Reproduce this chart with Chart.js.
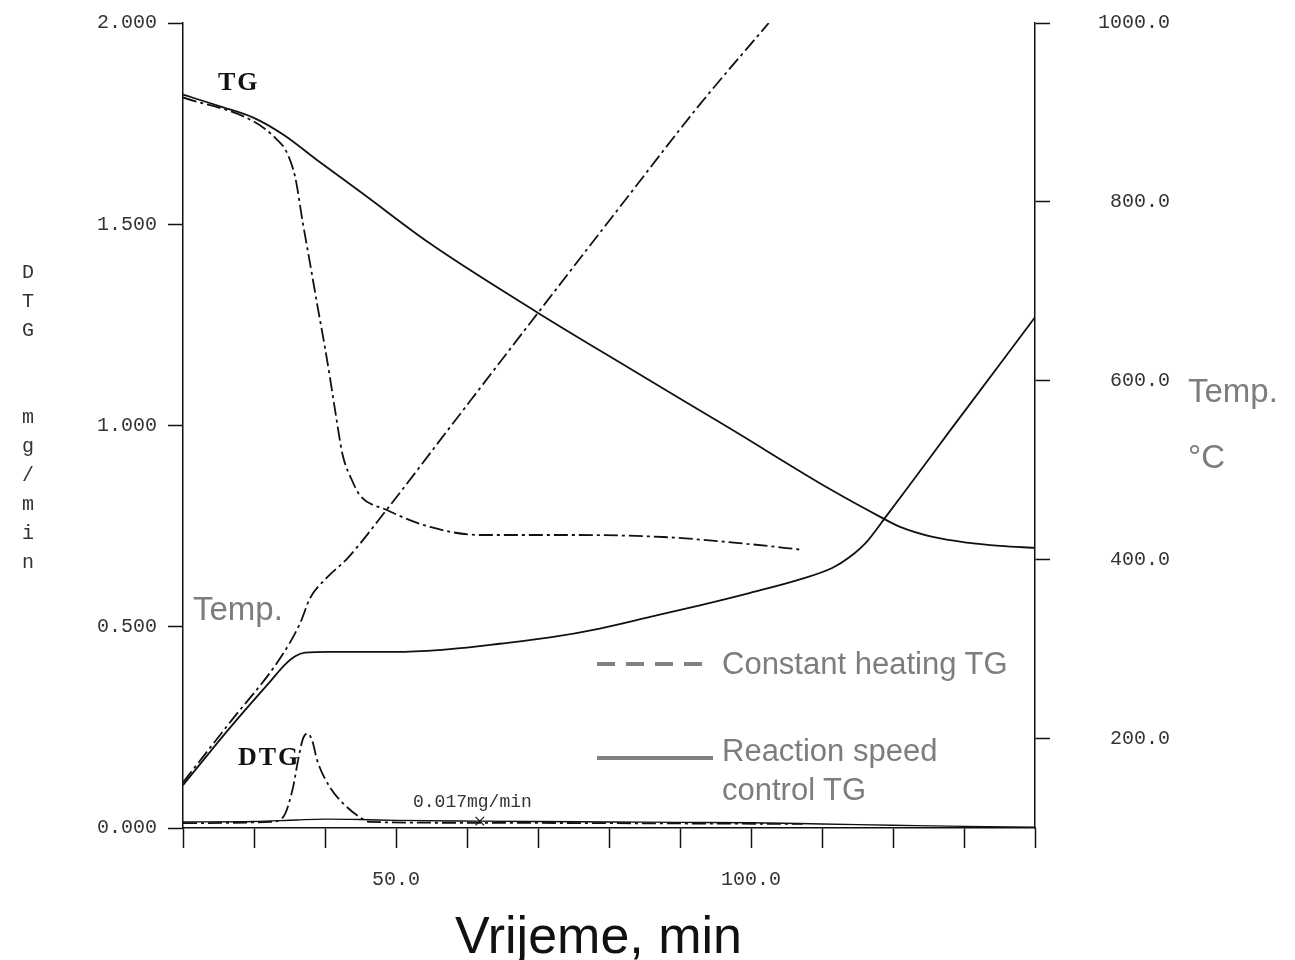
<!DOCTYPE html>
<html>
<head>
<meta charset="utf-8">
<title>TG / DTG</title>
<script src="https://cdn.jsdelivr.net/npm/chart.js@4/dist/chart.umd.min.js"></script>
<style>
  body { margin: 0; background: #fff; }
  #wrap { position: relative; width: 1295px; height: 960px; overflow: hidden; }
  #c { position: absolute; left: 0; top: 0; }
  .t { position: absolute; white-space: nowrap; line-height: 1; }
  .gray { font-family: "Liberation Sans", Arial, sans-serif; color: #7d7d7d; }
  .mono { font-family: "Liberation Mono", "DejaVu Sans Mono", monospace; color: #333; }
  .serif { font-family: "Liberation Serif", "Times New Roman", serif; font-weight: bold; color: #111; letter-spacing: 2px; }
  .key { position: absolute; height: 4px; }
</style>
</head>
<body>
<div id="wrap">
  <canvas id="c" width="1295" height="960"></canvas>

  <div class="t serif" style="left:218px; top:69px; font-size:26px;">TG</div>
  <div class="t serif" style="left:238px; top:744px; font-size:26px;">DTG</div>
  <div class="t mono" style="left:413px; top:793px; font-size:18px;">0.017mg/min</div>

  <div class="t gray" style="left:193px; top:592px; font-size:33px;">Temp.</div>
  <div class="t gray" style="left:1188px; top:374px; font-size:33px;">Temp.</div>
  <div class="t gray" style="left:1188px; top:440px; font-size:33px;">°C</div>

  <div class="key" style="left:597px; top:662px; width:108px; background:repeating-linear-gradient(90deg,#808080 0 18px,transparent 18px 29px);"></div>
  <div class="t gray" style="left:722px; top:648px; font-size:31px;">Constant heating TG</div>
  <div class="key" style="left:597px; top:756px; width:116px; background:#808080;"></div>
  <div class="t gray" style="left:722px; top:735px; font-size:31px;">Reaction speed</div>
  <div class="t gray" style="left:722px; top:774px; font-size:31px;">control TG</div>

  <div class="t" style="left:455px; top:909px; font-size:52px; font-family:'Liberation Sans', Arial, sans-serif; color:#111;">Vrijeme, min</div>

  <div id="ylab"></div>
</div>

<script>
// TG, reaction speed control (solid)
const timeTgRsc = [20, 25.2, 29.9, 34.1, 39.3, 45.4, 54.8, 69.9, 83.0, 97.0, 111.1, 118.2, 121.0, 125.6, 130.4, 135.1, 140];
const massTgRsc = [1.822, 1.793, 1.765, 1.723, 1.654, 1.575, 1.452, 1.281, 1.141, 0.993, 0.842, 0.773, 0.748, 0.723, 0.709, 0.701, 0.696];

// TG, constant heating (dash-dot)
const timeTgConst = [20, 29.9, 33.2, 34.6, 35.8, 36.9, 37.9, 39.0, 40.0, 40.7, 41.4, 42.5, 43.8, 44.9, 48.7, 54.8, 61.8, 73.5, 87.6, 99.4, 107.3];
const massTgConst = [1.815, 1.756, 1.711, 1.679, 1.617, 1.501, 1.402, 1.291, 1.193, 1.119, 1.040, 0.926, 0.864, 0.827, 0.790, 0.748, 0.728, 0.728, 0.723, 0.706, 0.691];

// temperature, constant heating
const timeTempConst = [20, 26.6, 33.7, 36.5, 37.9, 40.4, 43.1, 48.7, 57.6, 70.0, 81.5, 92.8, 102.5];
const tempConst = [151, 218, 290, 329, 357, 381, 401, 456, 548, 676, 794, 909, 1000];

// temperature, reaction speed control
const timeTempRsc = [20, 26.6, 32.3, 34.4, 35.8, 37.2, 40.7, 50.6, 57.6, 64.6, 71.7, 78.7, 85.8, 92.8, 99.9, 106.9, 111.5, 113.9, 116.3, 118.9, 122.4, 128.0, 135.1, 140];
const tempRsc = [148, 212, 264, 283, 292, 296, 297, 297, 300, 306, 313, 323, 336, 349, 363, 378, 391, 403, 420, 447, 484, 544, 619, 671];

// DTG, constant heating
const timeDtgConst = [20, 32.3, 34.1, 35.5, 36.2, 36.9, 37.5, 38.2, 38.9, 40.7, 42.5, 44.9, 46.3, 60, 80, 107.3];
const dtgConst = [0.012, 0.015, 0.027, 0.101, 0.168, 0.222, 0.235, 0.217, 0.168, 0.101, 0.062, 0.027, 0.015, 0.013, 0.012, 0.010];

// DTG, reaction speed control (~0.017 mg/min)
const timeDtgRsc = [20, 30, 36, 40, 45, 50, 61.8, 70, 80, 90, 100, 110, 120, 130, 140];
const dtgRsc = [0.015, 0.016, 0.020, 0.022, 0.021, 0.019, 0.017, 0.016, 0.015, 0.014, 0.013, 0.010, 0.007, 0.004, 0.002];

const markTime = [61.8];
const markDtg = [0.017];

const xLabelled = [50, 100];
const dtgTicks = [0, 0.5, 1, 1.5, 2];
const tempTicks = [200, 400, 600, 800, 1000];
const yLabelChars = ['D', 'T', 'G', 'm', 'g', '/', 'm', 'i', 'n'];
const yLabelTops = [263, 292, 321, 408, 437, 466, 495, 524, 553];

// stacked axis caption on the left
const ylab = document.getElementById('ylab');
yLabelChars.forEach((ch, i) => {
  const d = document.createElement('div');
  d.className = 't mono';
  d.style.left = '22px';
  d.style.top = yLabelTops[i] + 'px';
  d.style.fontSize = '20px';
  d.textContent = ch;
  ylab.appendChild(d);
});

function pts(xs, ys) {
  return xs.map((x, i) => ({x: x, y: ys[i]}));
}

const ink = '#111';
const dashDot = [14, 4, 3, 4];

function line(data, axis, dash) {
  return {
    data: data,
    yAxisID: axis,
    borderColor: ink,
    borderWidth: 1.8,
    borderDash: dash || [],
    pointRadius: 0,
    fill: false,
    cubicInterpolationMode: 'monotone'
  };
}

const tickFont = {family: '"Liberation Mono", "DejaVu Sans Mono", monospace', size: 20};

new Chart(document.getElementById('c'), {
  type: 'line',
  data: {
    datasets: [
      line(pts(timeTgRsc, massTgRsc), 'y'),
      line(pts(timeTgConst, massTgConst), 'y', dashDot),
      line(pts(timeTempConst, tempConst), 'y2', dashDot),
      line(pts(timeTempRsc, tempRsc), 'y2'),
      line(pts(timeDtgConst, dtgConst), 'y', dashDot),
      Object.assign(line(pts(timeDtgRsc, dtgRsc), 'y'), {borderWidth: 1.4}),
      {
        data: pts(markTime, markDtg),
        yAxisID: 'y',
        showLine: false,
        pointStyle: 'crossRot',
        pointRadius: 6,
        borderColor: ink,
        borderWidth: 1.2
      }
    ]
  },
  options: {
    responsive: false,
    animation: false,
    layout: {padding: {top: 18, right: 125, left: 0, bottom: 0}},
    plugins: {legend: {display: false}, tooltip: {enabled: false}},
    scales: {
      x: {
        type: 'linear',
        min: 20,
        max: 140,
        border: {display: true, color: ink, width: 1.5},
        grid: {drawOnChartArea: false, drawTicks: true, tickLength: 20, tickColor: ink, tickWidth: 1.5},
        ticks: {
          stepSize: 10,
          autoSkip: false,
          maxRotation: 0,
          padding: 20,
          color: '#333',
          font: tickFont,
          callback: v => xLabelled.includes(v) ? v.toFixed(1) : ''
        },
        afterFit: s => { s.height = 132; }
      },
      y: {
        position: 'left',
        min: 0,
        max: 2,
        border: {display: true, color: ink, width: 1.5},
        grid: {drawOnChartArea: false, drawTicks: true, tickLength: 15, tickColor: ink, tickWidth: 1.5},
        afterBuildTicks: s => { s.ticks = dtgTicks.map(v => ({value: v})); },
        ticks: {padding: 11, color: '#333', font: tickFont, callback: v => v.toFixed(3)},
        afterFit: s => { s.width = 183; }
      },
      y2: {
        position: 'right',
        min: 100,
        max: 1000,
        border: {display: true, color: ink, width: 1.5},
        grid: {drawOnChartArea: false, drawTicks: true, tickLength: 15, tickColor: ink, tickWidth: 1.5},
        afterBuildTicks: s => { s.ticks = tempTicks.map(v => ({value: v})); },
        ticks: {crossAlign: 'far', color: '#333', font: tickFont, callback: v => v.toFixed(1)},
        afterFit: s => { s.width = 135; }
      }
    }
  }
});
</script>
</body>
</html>
